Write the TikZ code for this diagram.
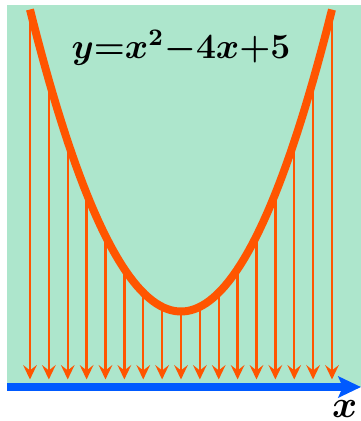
\documentclass[tikz,border=0pt]{standalone}
\usepackage{amsmath,amssymb}
\usepackage{bm}
\usetikzlibrary{arrows.meta}
\definecolor{bggreen}{RGB}{173,230,204}
\definecolor{curveorange}{RGB}{255,85,0}
\definecolor{axisblue}{RGB}{0,90,255}

\begin{document}
\begin{tikzpicture}[>=Stealth,
    dropline/.style={->, curveorange, line width=0.9pt, >={Stealth[length=1.9mm, width=1.8mm, inset=0.7mm]}},
    curveline/.style={curveorange, line width=3pt},
    axisline/.style={->, axisblue, line width=3pt, >={Stealth[length=3mm, width=2.8mm, inset=0.6mm]}}]
  \useasboundingbox (-0.397,-0.45) rectangle (4.384,5.126);
  \fill[bggreen] (-0.30,0) rectangle (4.384,5.06);

  % drop lines from the curve to the axis
  \foreach \i in {0,...,16} {
    \pgfmathsetmacro{\xv}{\i/4}
    \pgfmathsetmacro{\yv}{\xv*\xv-4*\xv+5}
    \coordinate (top\i) at (\xv,\yv);
    \coordinate (bot\i) at (\xv,0.1);
    \draw[dropline] (top\i) -- (bot\i);
  }

  \draw[curveline, domain=0:4, samples=80] plot (\x,{\x*\x-4*\x+5});

  \coordinate (xstart) at (-0.30,0);
  \coordinate (xend) at (4.384,0);
  \draw[axisline] (xstart) -- (xend);

  \node (eqn) at (2.0,4.49) {\scalebox{1.115}{\large$\boldsymbol{y{=}x^2{-}4x{+}5}$}};
  \node[inner sep=0pt] (xlabel) at (4.17,-0.29) {\Large$\boldsymbol{x}$};
\end{tikzpicture}
\end{document}
